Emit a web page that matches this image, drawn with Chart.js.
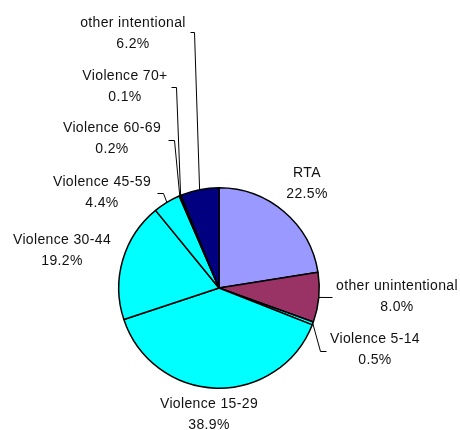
<!DOCTYPE html>
<html>
<head>
<meta charset="utf-8">
<script src="https://cdn.jsdelivr.net/npm/chart.js@4/dist/chart.umd.min.js"></script>
<style>
html,body{margin:0;padding:0;background:#fff;}
#wrap{width:460px;height:430px;position:relative;}
</style>
</head>
<body>
<div id="wrap"><canvas id="c" width="460" height="430"></canvas></div>
<script>
const categories = ["RTA","other unintentional","Violence 5-14","Violence 15-29","Violence 30-44","Violence 45-59","Violence 60-69","Violence 70+","other intentional"];
const values = [22.5, 8.0, 0.5, 38.9, 19.2, 4.4, 0.2, 0.1, 6.2];
const colors = ["#9999FF","#993366","#00FFFF","#00FFFF","#00FFFF","#00FFFF","#00FFFF","#00FFFF","#000080"];

// label layout: text center x, first line y, leader path (first point = arc edge, computed)
const labelLayout = [
  {x:307, y:173, path:null},
  {x:397, y:286, path:[[332,297]]},
  {x:375, y:339, path:[[320,351],[326,351]]},
  {x:209, y:404, path:null},
  {x:62,  y:240, path:null},
  {x:102, y:182, path:[[163,193],[157,193]]},
  {x:112, y:128, path:[[174,140],[168,140]]},
  {x:125, y:76,  path:[[176,87],[171,87]]},
  {x:133, y:23,  path:[[194,32],[190,32]]}
];

const labelPlugin = {
  id:'pieLabels',
  afterDatasetsDraw(chart){
    const ctx = chart.ctx;
    const meta = chart.getDatasetMeta(0);
    ctx.save();
    ctx.strokeStyle = '#000';
    ctx.lineWidth = 1;
    meta.data.forEach((arc, i) => {
      const L = labelLayout[i];
      if (L.path) {
        const p = arc.getProps(['x','y','startAngle','endAngle','outerRadius'], true);
        const mid = (p.startAngle + p.endAngle) / 2;
        const ex = p.x + Math.cos(mid) * p.outerRadius;
        const ey = p.y + Math.sin(mid) * p.outerRadius;
        ctx.beginPath();
        ctx.moveTo(ex, ey);
        L.path.forEach(pt => ctx.lineTo(pt[0] + 0.5, pt[1] + 0.5));
        ctx.stroke();
      }
    });
    ctx.fillStyle = '#111';
    ctx.font = '14px "Liberation Sans", Arial, sans-serif';
    try { ctx.letterSpacing = '0.35px'; } catch(e) {}
    ctx.textAlign = 'center';
    ctx.textBaseline = 'middle';
    meta.data.forEach((arc, i) => {
      const L = labelLayout[i];
      ctx.fillText(categories[i], L.x, L.y);
      ctx.fillText(values[i].toFixed(1) + '%', L.x, L.y + 21);
    });
    ctx.restore();
  }
};

new Chart(document.getElementById('c'), {
  type: 'pie',
  data: {
    labels: categories,
    datasets: [{
      data: values,
      backgroundColor: colors,
      borderColor: '#000',
      borderWidth: 1.5
    }]
  },
  options: {
    responsive: false,
    animation: false,
    layout: { padding: { left: 118, right: 140, top: 187, bottom: 41 } },
    plugins: { legend: { display: false }, tooltip: { enabled: false } }
  },
  plugins: [labelPlugin]
});
</script>
</body>
</html>
